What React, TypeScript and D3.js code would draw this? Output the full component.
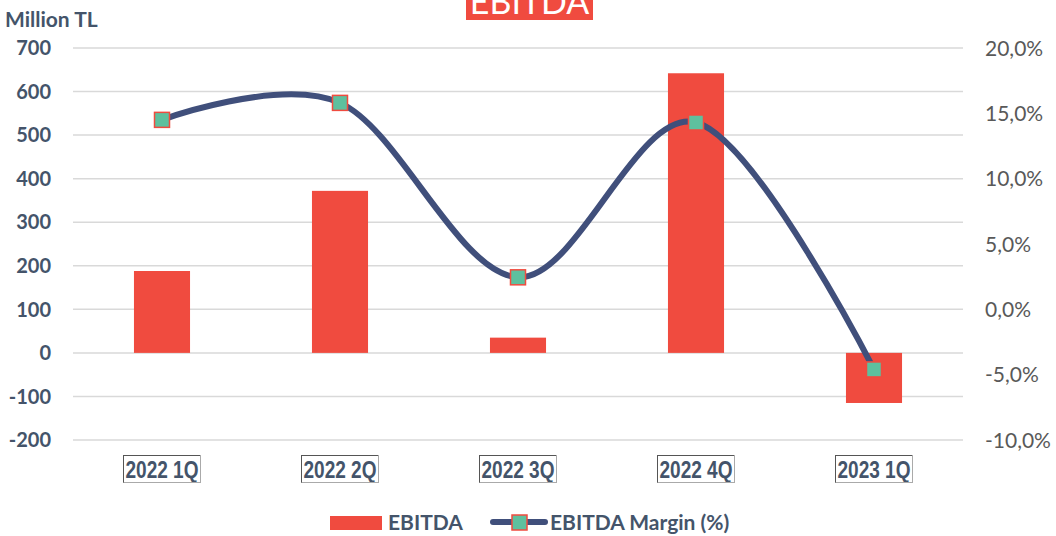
import React, { useEffect, useRef } from "react";
import * as d3 from "d3";

const categories = ["2022 1Q", "2022 2Q", "2022 3Q", "2022 4Q", "2023 1Q"];
const ebitda = [188, 372, 35, 642, -115];
const margin = [14.5, 15.8, 2.45, 14.3, -4.6];
const leftTicks = [-200, -100, 0, 100, 200, 300, 400, 500, 600, 700];
const rightTicks = [-10, -5, 0, 5, 10, 15, 20];

const RED = "#F04B3F";
const NAVY = "#404F7B";
const TEAL = "#5EC09E";
const SLATE = "#44546A";
const GREY = "#595959";
const FONT = "Lato, 'Open Sans', sans-serif";
const NARROW = "'Liberation Sans Narrow', 'Arial Narrow', 'Liberation Sans', Arial, sans-serif";

export default function App() {
  const ref = useRef<SVGSVGElement>(null);

  useEffect(() => {
    const svg = d3.select(ref.current);
    svg.selectAll("*").remove();

    const x = d3.scaleBand<string>().domain(categories).range([73, 963]).paddingInner(0.685).paddingOuter(0.3425);
    const yL = d3.scaleLinear().domain([-200, 700]).range([440, 48]);
    const yR = d3.scaleLinear().domain([-10, 20]).range([440, 48]);

    // title
    svg.append("rect").attr("x", 466).attr("y", -5).attr("width", 127).attr("height", 25).attr("fill", RED);
    svg.append("text").attr("x", 529.5).attr("y", 14).attr("text-anchor", "middle")
      .attr("font-family", FONT).attr("font-size", 34).attr("fill", "#fff").text("EBITDA");

    svg.append("text").attr("x", 5).attr("y", 27).attr("font-family", FONT).attr("font-weight", 700)
      .attr("font-size", 21).attr("fill", SLATE).text("Million TL");

    // grid
    svg.append("g").selectAll("line").data(leftTicks).join("line")
      .attr("x1", 73).attr("x2", 963).attr("y1", d => yL(d)).attr("y2", d => yL(d))
      .attr("stroke", "#D9D9D9").attr("stroke-width", 1.5);

    // left ticks
    svg.append("g").selectAll("text").data(leftTicks).join("text")
      .attr("x", 51).attr("y", d => yL(d)).attr("dy", "0.36em").attr("text-anchor", "end")
      .attr("font-family", FONT).attr("font-weight", 700).attr("font-size", 20).attr("fill", SLATE)
      .text(d => String(d));

    // right ticks
    svg.append("g").selectAll("text").data(rightTicks).join("text")
      .attr("x", 985).attr("y", d => yR(d)).attr("dy", "0.36em").attr("text-anchor", "start")
      .attr("font-family", FONT).attr("font-size", 21).attr("fill", GREY)
      .text(d => d.toFixed(1).replace(".", ",") + "%");

    // bars
    svg.append("g").selectAll("rect").data(ebitda).join("rect")
      .attr("x", (d, i) => x(categories[i])!).attr("width", x.bandwidth())
      .attr("y", d => yL(Math.max(0, d))).attr("height", d => Math.abs(yL(d) - yL(0)))
      .attr("fill", RED);

    // line
    const cx = (i: number) => x(categories[i])! + x.bandwidth() / 2;
    const line = d3.line<number>().x((d, i) => cx(i)).y(d => yR(d)).curve(d3.curveCardinal.tension(0));
    svg.append("path").attr("d", line(margin)!).attr("fill", "none").attr("stroke", NAVY)
      .attr("stroke-width", 6).attr("stroke-linecap", "round");

    svg.append("g").selectAll("rect").data(margin).join("rect")
      .attr("x", (d, i) => cx(i) - 7.5).attr("y", d => yR(d) - 7.5).attr("width", 15).attr("height", 15)
      .attr("fill", TEAL).attr("stroke", RED).attr("stroke-width", 1.5);

    // x labels with boxes
    const xl = svg.append("g");
    categories.forEach((c, i) => {
      const t = xl.append("text").attr("x", cx(i)).attr("y", 478).attr("text-anchor", "middle")
        .attr("font-family", NARROW).attr("font-weight", 700).attr("font-size", 24).attr("fill", SLATE).text(c);
      let w = (t.node() as SVGTextElement).getComputedTextLength();
      if (w > 74) {
        t.attr("textLength", 73).attr("lengthAdjust", "spacingAndGlyphs");
        w = 73;
      }
      w += 4;
      const x0 = cx(i) - w / 2;
      xl.append("line").attr("x1", x0).attr("x2", x0 + w).attr("y1", 455.5).attr("y2", 455.5).attr("stroke", "#555").attr("stroke-width", 1);
      xl.append("line").attr("x1", x0).attr("x2", x0).attr("y1", 455).attr("y2", 483).attr("stroke", "#555").attr("stroke-width", 1);
      xl.append("line").attr("x1", x0).attr("x2", x0 + w).attr("y1", 482.5).attr("y2", 482.5).attr("stroke", "#AAA").attr("stroke-width", 1);
      xl.append("line").attr("x1", x0 + w).attr("x2", x0 + w).attr("y1", 455).attr("y2", 483).attr("stroke", "#AAA").attr("stroke-width", 1);
    });

    // legend
    const lg = svg.append("g");
    lg.append("rect").attr("x", 330).attr("y", 516).attr("width", 52).attr("height", 14).attr("fill", RED);
    lg.append("text").attr("x", 388).attr("y", 530).attr("font-family", FONT).attr("font-weight", 700)
      .attr("font-size", 21).attr("fill", SLATE).text("EBITDA");
    lg.append("line").attr("x1", 493).attr("x2", 545).attr("y1", 522).attr("y2", 522)
      .attr("stroke", NAVY).attr("stroke-width", 6).attr("stroke-linecap", "round");
    lg.append("rect").attr("x", 512).attr("y", 515).attr("width", 15).attr("height", 15)
      .attr("fill", TEAL).attr("stroke", RED).attr("stroke-width", 1.5);
    lg.append("text").attr("x", 550).attr("y", 530).attr("font-family", FONT).attr("font-weight", 700)
      .attr("font-size", 21).attr("fill", SLATE).text("EBITDA Margin (%)");
  }, []);

  return (
    <svg ref={ref} width={1056} height={536}
      style={{ position: "absolute", left: 0, top: 0, background: "#fff" }} />
  );
}
